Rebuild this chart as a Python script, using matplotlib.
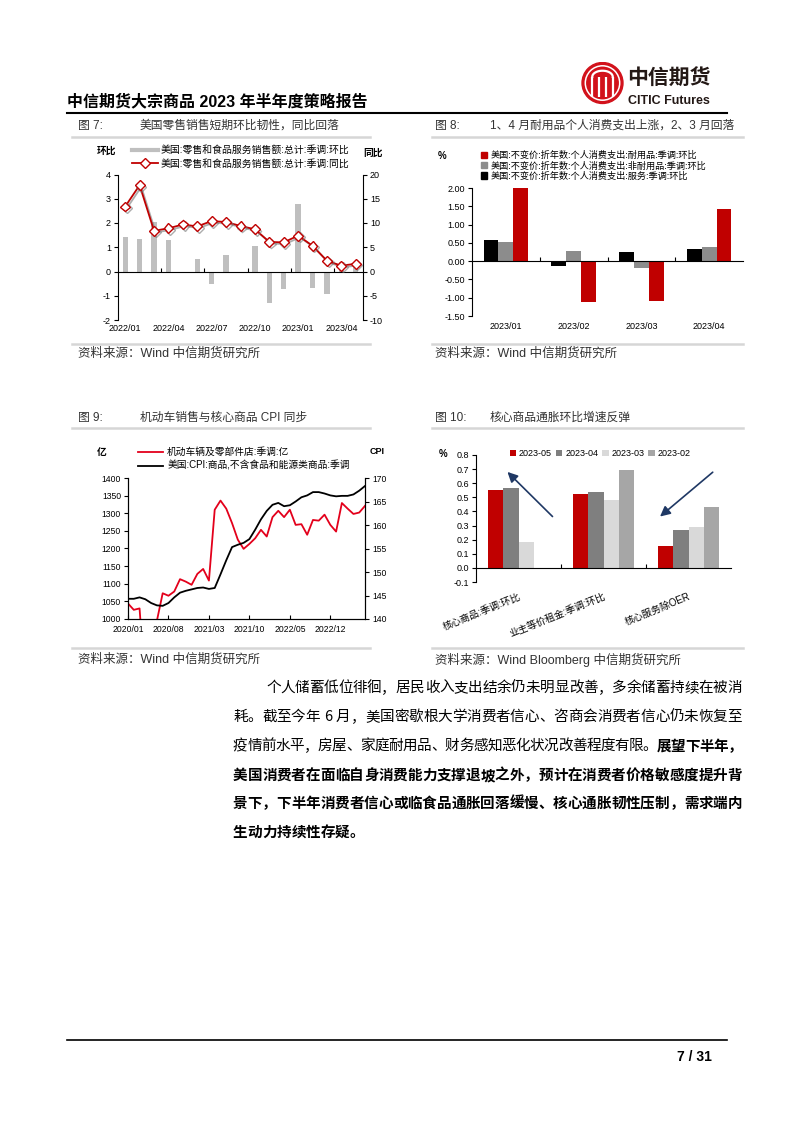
import numpy as np
import matplotlib
matplotlib.use('Agg')
import matplotlib.pyplot as plt
import matplotlib.patheffects as pe
from matplotlib.patches import Circle, Patch
from matplotlib.lines import Line2D
from matplotlib.ticker import FormatStrFormatter

plt.rcParams['font.family'] = ['Liberation Sans', 'Noto Sans CJK SC', 'DejaVu Sans']
plt.rcParams['axes.unicode_minus'] = False

# ---- 图7: 零售销售 (2022/01 - 2023/05)
retail_labels = ['2022/01', '2022/04', '2022/07', '2022/10', '2023/01', '2023/04']
retail_mom = [1.44, 1.36, 2.03, 1.31, 0.0, 0.51, -0.51, 0.68, 0.0, 1.04, -1.31, -0.71, 2.79, -0.66, -0.92, 0.4, 0.3]
retail_yoy = [13.4, 17.8, 8.4, 8.9, 9.7, 9.3, 10.4, 10.2, 9.4, 8.7, 6.1, 6.0, 7.4, 5.3, 2.2, 1.2, 1.6]

# ---- 图8: 个人消费支出
pce_months = ['2023/01', '2023/02', '2023/03', '2023/04']
pce_services = [0.59, -0.14, 0.25, 0.34]
pce_nondurable = [0.52, 0.27, -0.20, 0.40]
pce_durable = [2.01, -1.11, -1.08, 1.42]

# ---- 图9: 机动车销售与核心商品CPI (2020/01 - 2023/06)
motor_ticks = ['2020/01', '2020/08', '2021/03', '2021/10', '2022/05', '2022/12']
motor_sales = [1044, 1026, 1030, 800, 740, 995, 1073, 1066, 1078, 1113, 1106, 1097, 1128, 1142,
               1109, 1310, 1336, 1313, 1272, 1225, 1199, 1213, 1229, 1253, 1234, 1289, 1307, 1289,
               1310, 1267, 1269, 1239, 1281, 1279, 1296, 1267, 1248, 1329, 1313, 1298, 1302, 1321]
cpi_core_goods = [144.3, 144.3, 144.6, 144.2, 143.4, 142.9, 142.8, 143.4, 144.6, 145.6, 146.0, 146.3,
                  146.6, 146.7, 146.4, 146.6, 149.5, 152.5, 155.3, 155.8, 156.2, 157.0, 159.0, 161.2,
                  163.0, 164.3, 164.7, 164.0, 164.2, 165.0, 165.9, 166.3, 167.0, 167.0, 166.7, 166.3,
                  166.1, 166.2, 166.2, 166.5, 167.3, 168.3]

# ---- 图10: 核心通胀环比
infl_cats = ['核心商品:季调:环比', '业主等价租金:季调:环比', '核心服务除OER']
infl_2023_05 = [0.55, 0.525, 0.158]
infl_2023_04 = [0.567, 0.541, 0.27]
infl_2023_03 = [0.182, 0.482, 0.288]
infl_2023_02 = [-0.01, 0.695, 0.428]

W, H = 802, 1133
fig = plt.figure(figsize=(W / 100, H / 100), dpi=100)


def rect(l, t, r, b):
    return [l / W, 1 - b / H, (r - l) / W, (b - t) / H]


def ftext(x, y, s, **kw):
    return fig.text(x / W, 1 - y / H, s, **kw)


def hline(x0, x1, y, color, lw):
    fig.add_artist(Line2D([x0 / W, x1 / W], [1 - y / H, 1 - y / H], color=color, lw=lw,
                          transform=fig.transFigure))


def fanchor(x, y):
    return (x / W, 1 - y / H)


# ---------------- header
ftext(67, 101, '中信期货大宗商品 2023 年半年度策略报告', fontsize=11.5, fontweight='bold', va='center')
hline(67, 727, 113, 'black', 1.5)

lax = fig.add_axes(rect(581, 61, 624, 105))
lax.set_xlim(-1.05, 1.05)
lax.set_ylim(-1.05, 1.05)
lax.set_aspect('equal')
lax.axis('off')
lax.add_patch(Circle((0, 0), 1, color='#D2121B'))
lax.add_patch(Circle((0, 0), 0.84, fill=False, ec='white', lw=1.1))
for xv in [-0.5, -0.17, 0.17, 0.5]:
    lax.plot([xv, xv], [-0.66, 0.3], color='white', lw=1.6, solid_capstyle='butt')
th = np.linspace(0, np.pi, 40)
lax.plot(0.5 * np.cos(th), 0.3 + 0.3 * np.sin(th), color='white', lw=1.6)
ftext(627, 78, '中信期货', fontsize=15, fontweight='bold', color='#231815', va='center')
ftext(628, 101, 'CITIC Futures', fontsize=9, fontweight='bold', color='#231815', va='center')

# ---------------- figure titles, separators, sources
tcol = '#333333'
for xn, xt, y, num, txt in [(78, 140, 126, '图 7:', '美国零售销售短期环比韧性，同比回落'),
                            (435, 490, 126, '图 8:', '1、4 月耐用品个人消费支出上涨，2、3 月回落'),
                            (78, 140, 418, '图 9:', '机动车销售与核心商品 CPI 同步'),
                            (435, 490, 418, '图 10:', '核心商品通胀环比增速反弹')]:
    ftext(xn, y, num, fontsize=8.5, color=tcol, va='center')
    ftext(xt, y, txt, fontsize=8.5, color=tcol, va='center')

for y in [137, 344, 428, 648]:
    hline(72, 370, y, '#D6D6D6', 1.8)
    hline(432, 743, y, '#D6D6D6', 1.8)

ftext(78, 354, '资料来源：Wind 中信期货研究所', fontsize=9, color=tcol, va='center')
ftext(435, 354, '资料来源：Wind 中信期货研究所', fontsize=9, color=tcol, va='center')
ftext(78, 660, '资料来源：Wind 中信期货研究所', fontsize=9, color=tcol, va='center')
ftext(435, 660, '资料来源：Wind Bloomberg 中信期货研究所', fontsize=9, color=tcol, va='center')

fs = 6.5

# ---------------- 图7
ax = fig.add_axes(rect(118, 174.5, 363, 320))
x7 = np.arange(len(retail_mom))
ax.bar(x7, retail_mom, width=0.37, color='#BFBFBF', zorder=1)
ax.set_xlim(-0.5, len(x7) - 0.5)
ax.set_ylim(-2, 4)
ax.set_yticks(range(-2, 5))
for s in ['top', 'right']:
    ax.spines[s].set_visible(False)
ax.spines['bottom'].set_position(('data', 0))
ax.set_xticks([2.5, 5.5, 8.5, 11.5, 14.5])
ax.set_xticklabels([])
ax.tick_params(axis='x', direction='in', length=3, width=0.8)
ax.tick_params(axis='y', direction='out', length=3, width=0.8, labelsize=fs, pad=2)
for i, lab in zip(range(0, len(x7), 3), retail_labels):
    ax.text(i, -0.03, lab, transform=ax.get_xaxis_transform(), ha='center', va='top', fontsize=fs)

ax2 = ax.twinx()
ax2.plot(x7, retail_yoy, color='#C00000', lw=1.3, marker='D', ms=5, mfc='white', mec='#C00000', mew=1.0,
         path_effects=[pe.SimpleLineShadow(offset=(1.2, -1.2), shadow_color='#777777', alpha=0.6), pe.Normal()])
ax2.set_ylim(-10, 20)
ax2.set_yticks(range(-10, 21, 5))
for s in ['top', 'left', 'bottom']:
    ax2.spines[s].set_visible(False)
ax2.tick_params(axis='y', direction='out', length=3, width=0.8, labelsize=fs, pad=2)
ftext(107, 151, '环比', fontsize=7, fontweight='bold', ha='center', va='center')
ftext(373, 153, '同比', fontsize=7, fontweight='bold', ha='center', va='center')
h7 = [Line2D([], [], color='#BFBFBF', lw=3),
      Line2D([], [], color='#C00000', lw=1.3, marker='D', ms=5, mfc='white', mec='#C00000')]
ax2.legend(h7, ['美国:零售和食品服务销售额:总计:季调:环比', '美国:零售和食品服务销售额:总计:季调:同比'],
           loc='upper left', bbox_to_anchor=fanchor(132, 145), bbox_transform=fig.transFigure,
           frameon=False, fontsize=7.1, handlelength=2.6, handletextpad=0.3, labelspacing=0.4,
           borderpad=0, borderaxespad=0)

# ---------------- 图8
ax = fig.add_axes(rect(472, 188, 743, 316))
x8 = np.arange(len(pce_months))
bw = 0.22
ax.bar(x8 - bw, pce_services, bw, color='black')
ax.bar(x8, pce_nondurable, bw, color='#8C8C8C')
ax.bar(x8 + bw, pce_durable, bw, color='#C00000')
ax.set_xlim(-0.5, len(x8) - 0.5)
ax.set_ylim(-1.5, 2.0)
ax.set_yticks(np.arange(-3, 5) * 0.5)
ax.yaxis.set_major_formatter(FormatStrFormatter('%.2f'))
for s in ['top', 'right']:
    ax.spines[s].set_visible(False)
ax.spines['bottom'].set_position(('data', 0))
ax.set_xticks([0.5, 1.5, 2.5])
ax.set_xticklabels([])
ax.tick_params(axis='x', direction='in', length=3, width=0.8)
ax.tick_params(axis='y', direction='out', length=3, width=0.8, labelsize=fs, pad=2)
for i, lab in enumerate(pce_months):
    ax.text(i, -0.05, lab, transform=ax.get_xaxis_transform(), ha='center', va='top', fontsize=fs)
ax.legend(handles=[Patch(color='#C00000'), Patch(color='#8C8C8C'), Patch(color='black')],
          labels=['美国:不变价:折年数:个人消费支出:耐用品:季调:环比',
                  '美国:不变价:折年数:个人消费支出:非耐用品:季调:环比',
                  '美国:不变价:折年数:个人消费支出:服务:季调:环比'],
          loc='upper left', bbox_to_anchor=fanchor(481, 151), bbox_transform=fig.transFigure,
          frameon=False, fontsize=6.6, handlelength=0.7, handleheight=0.7, handletextpad=0.3,
          labelspacing=0.12, borderpad=0, borderaxespad=0)
ftext(442, 156, '%', fontsize=7, fontweight='bold', ha='center', va='center')

# ---------------- 图9
ax = fig.add_axes(rect(128, 478, 365, 619))
x9 = np.arange(len(motor_sales))
ax.plot(x9, motor_sales, color='#E3001B', lw=1.3)
ax.set_xlim(0, len(x9) - 1)
ax.set_ylim(1000, 1400)
ax.set_yticks(range(1000, 1401, 50))
ax.set_xticks(range(0, len(x9) - 1, 7))
ax.set_xticklabels(motor_ticks)
ax.spines['top'].set_visible(False)
ax.tick_params(axis='x', direction='in', length=3, width=0.8, labelsize=6.2, pad=4)
ax.tick_params(axis='y', direction='out', length=3, width=0.8, labelsize=6.2, pad=2)
ax2 = ax.twinx()
ax2.plot(x9, cpi_core_goods, color='black', lw=1.3)
ax2.set_ylim(140, 170)
ax2.set_yticks(range(140, 171, 5))
ax2.spines['top'].set_visible(False)
ax2.tick_params(axis='y', direction='out', length=3, width=0.8, labelsize=6.2, pad=2)
ax2.legend([Line2D([], [], color='#E3001B', lw=1.3), Line2D([], [], color='black', lw=1.3)],
           ['机动车辆及零部件店:季调:亿', '美国:CPI:商品,不含食品和能源类商品:季调'],
           loc='upper left', bbox_to_anchor=fanchor(138, 447), bbox_transform=fig.transFigure,
           frameon=False, fontsize=7, handlelength=2.6, handletextpad=0.4, labelspacing=0.4,
           borderpad=0, borderaxespad=0)
ftext(102, 452, '亿', fontsize=7, fontweight='bold', ha='center', va='center')
ftext(377, 452, 'CPI', fontsize=6.5, fontweight='bold', ha='center', va='center')

# ---------------- 图10
ax = fig.add_axes(rect(476, 455, 731, 582))
x10 = np.arange(len(infl_cats))
bw = 0.18
series = [(infl_2023_05, '#C00000', '2023-05'), (infl_2023_04, '#7F7F7F', '2023-04'),
          (infl_2023_03, '#D9D9D9', '2023-03'), (infl_2023_02, '#A6A6A6', '2023-02')]
for k, (vals, col, lab) in enumerate(series):
    ax.bar(x10 + (k - 1.5) * bw, vals, bw, color=col, label=lab)
ax.set_xlim(-0.5, len(x10) - 0.5)
ax.set_ylim(-0.1, 0.8)
ax.set_yticks(np.arange(-1, 9) / 10)
ax.yaxis.set_major_formatter(FormatStrFormatter('%.1f'))
for s in ['top', 'right']:
    ax.spines[s].set_visible(False)
ax.spines['bottom'].set_position(('data', 0))
ax.set_xticks([0.5, 1.5])
ax.set_xticklabels([])
ax.tick_params(axis='x', direction='in', length=3, width=0.8)
ax.tick_params(axis='y', direction='out', length=3, width=0.8, labelsize=fs, pad=2)
for i, lab in enumerate(infl_cats):
    ax.text(i, -0.07, lab, transform=ax.get_xaxis_transform(), rotation=22, ha='right', va='top',
            rotation_mode='anchor', fontsize=7)
ax.legend(loc='upper left', bbox_to_anchor=fanchor(510, 449), bbox_transform=fig.transFigure, ncol=4,
          frameon=False, fontsize=fs, handlelength=0.7, handleheight=0.7, handletextpad=0.3,
          columnspacing=0.45, borderpad=0, borderaxespad=0)
arrow = dict(arrowstyle='-|>,head_length=0.6,head_width=0.3', color='#1F3864', lw=1.2, shrinkA=0, shrinkB=0)
ax.annotate('', xy=(-0.13, 0.68), xytext=(0.40, 0.364), arrowprops=arrow)
ax.annotate('', xy=(1.665, 0.364), xytext=(2.285, 0.678), arrowprops=arrow)
ftext(443, 454, '%', fontsize=7, fontweight='bold', ha='center', va='center')

# ---------------- body text
body = [
    (266, 688, True, [('个人储蓄低位徘徊，居民收入支出结余仍未明显改善，多余储蓄持续在被消', False)]),
    (233, 717, True, [('耗。截至今年 6 月，美国密歇根大学消费者信心、咨商会消费者信心仍未恢复至', False)]),
    (233, 746, True, [('疫情前水平，房屋、家庭耐用品、财务感知恶化状况改善程度有限。', False), ('展望下半年，', True)]),
    (233, 775, True, [('美国消费者在面临自身消费能力支撑退坡之外，预计在消费者价格敏感度提升背', True)]),
    (233, 803, True, [('景下，下半年消费者信心或临食品通胀回落缓慢、核心通胀韧性压制，需求端内', True)]),
    (233, 832, False, [('生动力持续性存疑。', True)]),
]
bfs = 10.5
em = bfs * 100 / 72
for x0, y, just, segs in body:
    chars = [(ch, b) for s, b in segs for ch in s]
    widths = [em if ord(ch) > 255 else (0.28 * em if ch == ' ' else 0.56 * em) for ch, b in chars]
    gap = (742 - x0 - sum(widths)) / (len(chars) - 1) if just else 0.0
    pos = x0
    for (ch, b), wd in zip(chars, widths):
        if ch != ' ':
            ftext(pos, y, ch, fontsize=bfs, fontweight='bold' if b else 'normal', va='center',
                  family=['Noto Sans CJK SC', 'DejaVu Sans'])
        pos += wd + gap

# ---------------- footer
hline(67, 727, 1040, 'black', 1.2)
ftext(712, 1057, '7 / 31', fontsize=10, fontweight='bold', ha='right', va='center')

fig.savefig('out.png', dpi=100)
